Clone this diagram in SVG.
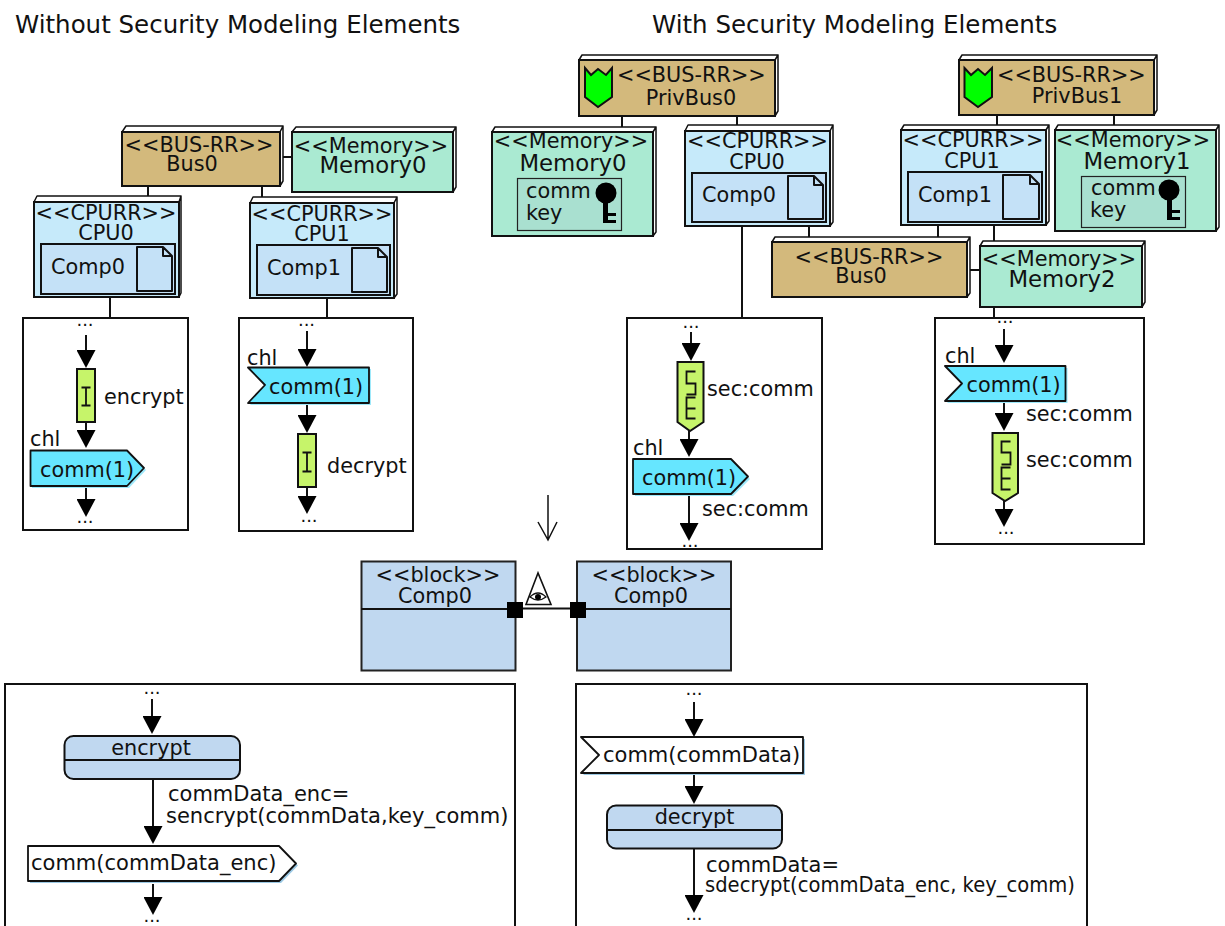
<svg xmlns="http://www.w3.org/2000/svg" width="1225" height="926" viewBox="0 0 1225 926">
<style>
text{font-family:"DejaVu Sans",sans-serif;font-size:20.8px;fill:#111}
.m{text-anchor:middle}
.big{font-size:22.8px}
.title{font-size:24.5px}
.dots{font-size:18px}
.wide{font-size:21px}
.f{stroke:#111;stroke-width:2;stroke-linejoin:miter}
.side{fill:#fff;stroke:#111;stroke-width:1.5;stroke-linejoin:round}
.bus{fill:#d3b97c}.mem{fill:#aaead2}.cpu{fill:#c6eafa}.inner{fill:#c4e1f7;stroke:#111;stroke-width:2}
.doc{fill:#c4e1f7;stroke:#111;stroke-width:2;stroke-linejoin:round}
.keybox{fill:#a9e0d0;stroke:#222;stroke-width:1.2}
.box{fill:#fff;stroke:#111;stroke-width:2}
.act{fill:#c6f46a;stroke:#111;stroke-width:2}
.g{fill:none;stroke:#111;stroke-width:1.8}
.sig{fill:#66e6ff;stroke:#111;stroke-width:1.8;stroke-linejoin:round}
.sh{fill:#9ee9fb}
.wsig{fill:#fff;stroke:#111;stroke-width:1.8;stroke-linejoin:round}
.wsh{fill:#9cc9e4}
.blk{fill:#c0d8f0;stroke:#222;stroke-width:2}
.st{fill:#c0d8f0;stroke:#111;stroke-width:2}
.c{fill:none;stroke:#111;stroke-width:2}
.a{fill:none;stroke:#111;stroke-width:2;marker-end:url(#ah)}
.shield{fill:#00ff00;stroke:#111;stroke-width:2;stroke-linejoin:miter}
</style>
<defs>
<marker id="ah" markerUnits="userSpaceOnUse" markerWidth="19" markerHeight="19" refX="9" refY="9.500" orient="auto"><path d="M0,0L18,9.500L0,19Z" fill="#000"/></marker>
</defs>
<text id="title-left" class="title" x="15" y="33">Without Security Modeling Elements</text>
<text id="title-right" class="title" x="652" y="33">With Security Modeling Elements</text>

<g id="flow-box-1"><rect class="box" x="23" y="318" width="165" height="212"/></g>
<g id="flow-box-2"><rect class="box" x="239" y="318" width="174" height="213"/></g>
<g id="flow-box-3"><rect class="box" x="627" y="318" width="195" height="231"/></g>
<g id="flow-box-4"><rect class="box" x="935" y="318" width="209" height="226"/></g>
<g id="flow-box-5"><rect class="box" x="5" y="684" width="510" height="250"/></g>
<g id="flow-box-6"><rect class="box" x="576" y="684" width="511" height="250"/></g>

<g id="connectors">
<path class="c" d="M148,186V197M262,186V199M283,157H292M110,298V318M327,298V318"/>
<path class="c" d="M622,116V127M737,116V125M742,226V318M809,226V237M997,115V125M1114,115V125M938,225V237M994,225V241M970,270H980M994,306V318"/>
<path class="c" d="M523,608.500H570" stroke-width="1.500"/>
<path class="a" d="M86,335V359"/><path class="a" d="M86,422V439"/><path class="a" d="M86,487V508"/>
<path class="a" d="M307,331V358"/><path class="a" d="M307,404V424"/><path class="a" d="M307,487V505"/>
<path class="a" d="M691,332V352"/><path class="a" d="M689,431V448"/><path class="a" d="M689,496V532"/>
<path class="a" d="M1004,329V354"/><path class="a" d="M1004,403V422"/><path class="a" d="M1004,501V518"/>
<path class="a" d="M152,699V725"/><path class="a" d="M153,779V835"/><path class="a" d="M153,884V906"/>
<path class="a" d="M694,702V728"/><path class="a" d="M694,775V795"/><path class="a" d="M694,848V904"/>
<path d="M548,495V540M538,522L548,540L557,522" fill="none" stroke="#111" stroke-width="1.500"/>
</g>

<g id="bus0-left">
<path class="side" d="M122,132L126,126H283L280,132ZM280,132L283,126V181L280,186Z"/>
<rect class="bus f" x="122" y="132" width="158" height="54"/>
<text class="m" x="199" y="152">&lt;&lt;BUS-RR&gt;&gt;</text><text class="m" x="192" y="171">Bus0</text>
</g>
<g id="memory0-left">
<path class="side" d="M292,132L296,127H456L453,132ZM453,132L456,127V187L453,192Z"/>
<rect class="mem f" x="292" y="132" width="161" height="60"/>
<text class="m" x="371" y="153">&lt;&lt;Memory&gt;&gt;</text><text class="m big" x="373" y="173">Memory0</text>
</g>
<g id="cpu0-left">
<path class="side" d="M34,202L37,196H181L179,202ZM179,202L181,196V293L179,297Z"/>
<rect class="cpu f" x="34" y="202" width="145" height="95"/>
<text class="m" x="106" y="220">&lt;&lt;CPURR&gt;&gt;</text><text class="m" x="106" y="240">CPU0</text>
<rect class="inner" x="41" y="244" width="134" height="50"/>
<path class="doc" d="M137,247H163L172,256V291H137ZM163,247V256H172"/>
<text x="51" y="274">Comp0</text>
</g>
<g id="cpu1-left">
<path class="side" d="M250,203L253,197H397L394,203ZM394,203L397,197V294L394,298Z"/>
<rect class="cpu f" x="250" y="203" width="144" height="95"/>
<text class="m" x="322" y="221">&lt;&lt;CPURR&gt;&gt;</text><text class="m" x="322" y="241">CPU1</text>
<rect class="inner" x="257" y="245" width="133" height="50"/>
<path class="doc" d="M352,248H378L387,257V292H352ZM378,248V257H387"/>
<text x="267" y="275">Comp1</text>
</g>

<g id="encrypt-left">
<text class="m dots" x="85" y="326">...</text>
<rect class="act" x="77" y="369" width="18" height="53"/>
<path class="g" d="M81.500,387.500H90.500M86,387.500V405.500M81.500,405.500H90.500"/>
<text x="104" y="404">encrypt</text>
<text x="30" y="446">chl</text>
<path class="sh" d="M32,452H129L146,470L129,488H32Z"/>
<path class="sig" d="M30.500,450.500H127L144,468L127,486H30.500Z"/>
<text x="40" y="477">comm(1)</text>
<text class="m dots" x="85" y="523">...</text>
</g>
<g id="decrypt-left">
<text class="m dots" x="306.500" y="326">...</text>
<text x="247" y="365">chl</text>
<path class="sh" d="M250,369H371V405H250L267,387Z"/>
<path class="sig" d="M248,367.500H369V403H248L265,385Z"/>
<text x="269" y="394">comm(1)</text>
<rect class="act" x="298" y="434" width="18" height="53"/>
<path class="g" d="M302.500,452.500H311.500M307,452.500V471.500M302.500,471.500H311.500"/>
<text x="327" y="473">decrypt</text>
<text class="m dots" x="309" y="522">...</text>
</g>

<g id="privbus0">
<path class="side" d="M579,60L582,55H778L775,60ZM775,60L778,55V111L775,116Z"/>
<rect class="bus f" x="579" y="60" width="196" height="56"/>
<path class="shield" d="M585,68L591,75L598,69L606,75L612,68V97L598,107L585,97Z"/>
<text x="617" y="82">&lt;&lt;BUS-RR&gt;&gt;</text><text class="m" x="691" y="105">PrivBus0</text>
</g>
<g id="privbus1">
<path class="side" d="M959,60L962,55H1157L1154,60ZM1154,60L1157,55V110L1154,115Z"/>
<rect class="bus f" x="959" y="60" width="195" height="55"/>
<path class="shield" d="M964.500,68L971,75L978,69L985,75L992,68V97L978,107L964.500,97Z"/>
<text x="997" y="82">&lt;&lt;BUS-RR&gt;&gt;</text><text class="m" x="1077" y="103">PrivBus1</text>
</g>
<g id="memory0-right">
<path class="side" d="M492,132L495,127H656L653,132ZM653,132L656,127V232L653,236Z"/>
<rect class="mem f" x="492" y="132" width="161" height="104"/>
<text class="m" x="571" y="148">&lt;&lt;Memory&gt;&gt;</text><text class="m big" x="573" y="171">Memory0</text>
<rect class="keybox" x="517.500" y="178.500" width="104" height="52"/>
<text x="526" y="198">comm</text><text x="526" y="220">key</text>
<circle cx="606" cy="193" r="10.500" fill="#000"/><path d="M603,200H608V213H616V216H608V220H616V223H603Z" fill="#000"/>
</g>
<g id="memory1-right">
<path class="side" d="M1055,130L1058,125H1219L1216,130ZM1216,130L1219,125V227L1216,231Z"/>
<rect class="mem f" x="1055" y="130" width="161" height="101"/>
<text class="m" x="1133" y="147">&lt;&lt;Memory&gt;&gt;</text><text class="m big" x="1137" y="169">Memory1</text>
<rect class="keybox" x="1081.500" y="176.500" width="104" height="51"/>
<text x="1091" y="195">comm</text><text x="1090" y="217">key</text>
<circle cx="1169" cy="190" r="10.500" fill="#000"/><path d="M1167,197H1172V210H1180V213H1172V217H1180V220H1167Z" fill="#000"/>
</g>
<g id="cpu0-right">
<path class="side" d="M685,131L688,125H833L830,131ZM830,131L833,125V222L830,226Z"/>
<rect class="cpu f" x="685" y="131" width="145" height="95"/>
<text class="m" x="757.500" y="148">&lt;&lt;CPURR&gt;&gt;</text><text class="m" x="757" y="169">CPU0</text>
<rect class="inner" x="692" y="173" width="134" height="49"/>
<path class="doc" d="M788,176H814L823,185V219H788ZM814,176V185H823"/>
<text x="702" y="202">Comp0</text>
</g>
<g id="cpu1-right">
<path class="side" d="M901,130L904,125H1049L1046,130ZM1046,130L1049,125V221L1046,225Z"/>
<rect class="cpu f" x="901" y="130" width="145" height="95"/>
<text class="m" x="973" y="147">&lt;&lt;CPURR&gt;&gt;</text><text class="m" x="972" y="168">CPU1</text>
<rect class="inner" x="908" y="172" width="134" height="50"/>
<path class="doc" d="M1003,175H1030L1039,184V219H1003ZM1030,175V184H1039"/>
<text x="918" y="202">Comp1</text>
</g>
<g id="bus0-right">
<path class="side" d="M772,242L775,237H970L967,242ZM967,242L970,237V293L967,297Z"/>
<rect class="bus f" x="772" y="242" width="195" height="55"/>
<text class="m" x="869" y="264">&lt;&lt;BUS-RR&gt;&gt;</text><text class="m" x="861" y="283">Bus0</text>
</g>
<g id="memory2-right">
<path class="side" d="M980,246L983,241H1145L1142,246ZM1142,246L1145,241V302L1142,307Z"/>
<rect class="mem f" x="980" y="246" width="162" height="61"/>
<text class="m" x="1059" y="266">&lt;&lt;Memory&gt;&gt;</text><text class="m big" x="1062" y="287">Memory2</text>
</g>

<g id="encrypt-right">
<text class="m dots" x="691" y="328">...</text>
<path class="act" d="M677.500,362H703.500V422L690,431L677.500,422Z"/>
<path class="g" d="M695.500,371.500H686.500V383.500H695.500V394.500H686.500M695.500,397.500H686.500V418.500H695.500M686.500,408.500H695.500"/>
<text x="707" y="396">sec:comm</text>
<text x="633" y="455">chl</text>
<path class="sh" d="M635,461H733L750,479L733,496H635Z"/>
<path class="sig" d="M633,459H731L748,476.500L731,494H633Z"/>
<text x="642" y="485">comm(1)</text>
<text x="702" y="516">sec:comm</text>
<text class="m dots" x="690" y="547">...</text>
</g>
<g id="decrypt-right">
<text class="m dots" x="1005" y="323">...</text>
<text x="945" y="363">chl</text>
<path class="sh" d="M947,368H1067.500V403H947L964,385.500Z"/>
<path class="sig" d="M945,366H1065.500V401H945L962,383.500Z"/>
<text x="966.500" y="392">comm(1)</text>
<text x="1026" y="421">sec:comm</text>
<path class="act" d="M992.500,433H1018V493L1005,501L992.500,493Z"/>
<path class="g" d="M1010.500,441.500H1001.500V452.500H1010.500V464.500H1001.500M1010.500,467.500H1001.500V489.500H1010.500M1001.500,478.500H1010.500"/>
<text x="1026" y="467">sec:comm</text>
<text class="m dots" x="1006" y="534">...</text>
</g>

<g id="block-left">
<rect class="blk" x="361.500" y="561.500" width="154" height="109"/><path class="c" d="M361,609H516"/>
<text class="m" x="438" y="582">&lt;&lt;block&gt;&gt;</text><text class="m" x="435" y="603">Comp0</text>
<rect x="507" y="602" width="16" height="16" fill="#000"/>
</g>
<g id="block-right">
<rect class="blk" x="577" y="561.500" width="154" height="109"/><path class="c" d="M577,609H731"/>
<text class="m" x="654" y="582">&lt;&lt;block&gt;&gt;</text><text class="m" x="651" y="603">Comp0</text>
<rect x="570" y="602" width="16" height="16" fill="#000"/>
</g>
<g id="observer">
<path d="M538,573L526,604.500H551Z" fill="#fff" stroke="#111" stroke-width="1.600"/>
<path d="M530,597Q538,589 546,597Q538,603 530,597Z" fill="#fff" stroke="#111" stroke-width="1.300"/>
<circle cx="538" cy="597" r="3" fill="#000"/>
</g>

<g id="flow-left-detail">
<text class="m dots" x="152" y="694">...</text>
<rect class="st" x="64.500" y="736" width="175.500" height="43" rx="9"/><path class="c" d="M64,760H240"/>
<text class="m" x="151" y="755">encrypt</text>
<text class="wide" x="168" y="801">commData_enc=</text>
<text class="wide" x="166" y="823">sencrypt(commData,key_comm)</text>
<path class="wsh" d="M30,848H281L298,865.500L281,883H30Z"/>
<path class="wsig" d="M28,846H279L296,863.500L279,881H28Z"/>
<text class="wide" x="31" y="870">comm(commData_enc)</text>
<text class="m dots" x="152" y="922">...</text>
</g>
<g id="flow-right-detail">
<text class="m dots" x="694" y="695">...</text>
<path class="wsh" d="M583,739H805V775H583L601,757Z"/>
<path class="wsig" d="M581,737H803V773H581L599,755Z"/>
<text class="wide" x="603" y="762">comm(commData)</text>
<rect class="st" x="607" y="805.500" width="175" height="43" rx="9"/><path class="c" d="M607,830H782"/>
<text class="m" x="694.500" y="824">decrypt</text>
<text class="wide" x="706" y="872">commData=</text>
<text class="wide" x="705" y="892" textLength="370" lengthAdjust="spacingAndGlyphs">sdecrypt(commData_enc, key_comm)</text>
<text class="m dots" x="694" y="920">...</text>
</g>
</svg>
